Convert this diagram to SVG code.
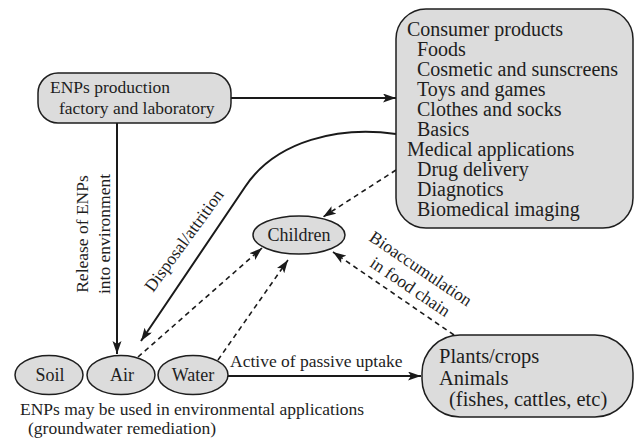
<svg xmlns="http://www.w3.org/2000/svg" width="635" height="439" viewBox="0 0 635 439">
<defs>
<marker id="ah" markerUnits="userSpaceOnUse" markerWidth="14" markerHeight="10" refX="13" refY="4.5" orient="auto">
<path d="M0,0 L13,4.5 L0,9 L3,4.5 z" fill="#1a1a1a"/>
</marker>
<style>
text{font-family:"Liberation Serif","Times New Roman",serif;fill:#1e1e1e}
.node{fill:#dcdcdc;stroke:#1e1e1e;stroke-width:1.5}
.solid{fill:none;stroke:#1a1a1a;stroke-width:2;marker-end:url(#ah)}
.dash{fill:none;stroke:#1a1a1a;stroke-width:1.6;stroke-dasharray:5 4;marker-end:url(#ah)}
.f17{font-size:17.5px}
.f18{font-size:18px}
.f20{font-size:20px}
.f21{font-size:20.5px}
</style>
</defs>
<rect width="635" height="439" fill="#ffffff"/>
<g id="connectors">
<line class="solid" x1="231" y1="98" x2="396" y2="98"/>
<line class="solid" x1="117" y1="123" x2="117" y2="354"/>
<path class="solid" d="M396,134 C340,126 276,140 245,187 L141,341"/>
<line class="solid" x1="228" y1="376" x2="421" y2="376"/>
<line class="dash" x1="396" y1="170" x2="323" y2="217"/>
<line class="dash" x1="138" y1="357" x2="262" y2="248"/>
<line class="dash" x1="218" y1="360" x2="288" y2="260"/>
<line class="dash" x1="454" y1="335" x2="333" y2="252"/>
<text class="f17" transform="translate(88,234) rotate(-90)" text-anchor="middle">Release of  ENPs</text>
<text class="f17" transform="translate(110,234) rotate(-90)" text-anchor="middle">into environment</text>
<text class="f17" transform="translate(153,293) rotate(-54)">Disposal/attrition</text>
<g transform="translate(368,240) rotate(34)">
<text class="f17" x="0" y="0">Bioaccumulation</text>
<text class="f17" x="15" y="21">in food chain</text>
</g>
<text class="f17" x="230" y="367">Active of passive uptake</text>
</g>
<g id="enps">
<rect class="node" x="38" y="73" width="193" height="50" rx="20"/>
<text class="f17" x="50" y="93">ENPs production</text>
<text class="f17" x="59" y="114">factory and laboratory</text>
</g>
<g id="consumer">
<rect class="node" x="396" y="9" width="237" height="219" rx="30"/>
<text class="f20" x="407" y="36">Consumer products</text>
<text class="f20" x="417" y="56">Foods</text>
<text class="f20" x="417" y="76">Cosmetic and sunscreens</text>
<text class="f20" x="417" y="96">Toys and games</text>
<text class="f20" x="417" y="116">Clothes and socks</text>
<text class="f20" x="417" y="136">Basics</text>
<text class="f20" x="407" y="156">Medical applications</text>
<text class="f20" x="417" y="176">Drug delivery</text>
<text class="f20" x="417" y="196">Diagnotics</text>
<text class="f20" x="417" y="216">Biomedical imaging</text>
</g>
<g id="children">
<ellipse class="node" cx="299" cy="235" rx="46" ry="19"/>
<text class="f18" x="299" y="241" text-anchor="middle">Children</text>
</g>
<g id="soil">
<ellipse class="node" cx="49" cy="375" rx="34" ry="19.5"/>
<text class="f18" x="50" y="381" text-anchor="middle">Soil</text>
</g>
<g id="air">
<ellipse class="node" cx="121" cy="375" rx="34" ry="19.5"/>
<text class="f18" x="122" y="381" text-anchor="middle">Air</text>
</g>
<g id="water">
<ellipse class="node" cx="193" cy="375" rx="35" ry="19.5"/>
<text class="f18" x="193" y="381" text-anchor="middle">Water</text>
</g>
<g id="plants">
<rect class="node" x="422" y="335" width="211" height="82" rx="38"/>
<text class="f21" x="439" y="363">Plants/crops</text>
<text class="f21" x="439" y="384.5">Animals</text>
<text class="f21" x="449" y="406">(fishes, cattles, etc)</text>
</g>
<g id="caption">
<text class="f17" x="20" y="415">ENPs may be used in environmental applications</text>
<text class="f17" x="28" y="434">(groundwater remediation)</text>
</g>
</svg>
